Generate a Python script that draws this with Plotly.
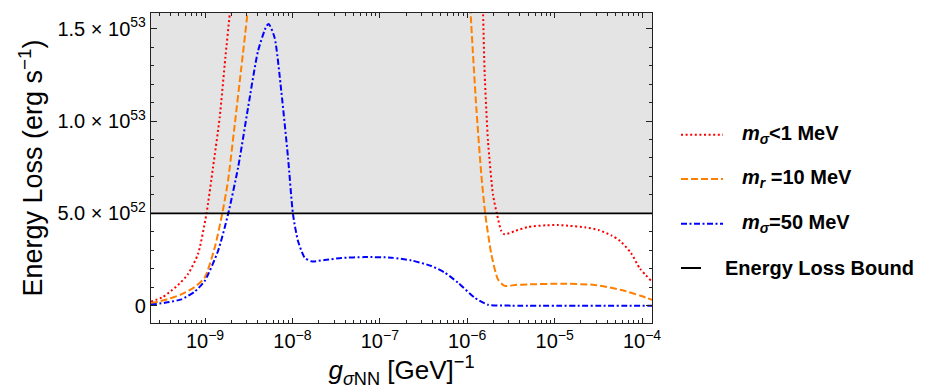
import plotly.graph_objects as go

# Energy loss curves, values in units of 1e52 erg/s
UNIT = 1e52

g_red = [2.40e-10, 3.24e-10, 4.11e-10, 5.13e-10, 6.38e-10, 8.32e-10, 1.035e-9, 1.236e-9,
         1.472e-9, 1.706e-9, 1.919e-9, 2.089e-9, None,
         1.445e-6, 1.517e-6, 1.585e-6, 1.730e-6, 1.972e-6, 2.193e-6, 2.455e-6, 2.685e-6,
         3.548e-6, 4.966e-6, 7.943e-6, 1.094e-5, 1.422e-5, 2.213e-5, 3.162e-5, 4.467e-5,
         5.623e-5, 7.482e-5, 9.484e-5, 1.300e-4]
e_red = [0.22, 0.45, 0.8, 1.2, 1.7, 2.8, 4.94, 7.5,
         10.2, 13.4, 15.8, 17.5, None,
         20.0, 15.85, 12.5, 8.9, 6.0, 4.94, 4.04, 3.86,
         4.05, 4.26, 4.35, 4.37, 4.33, 4.24, 4.10, 3.8,
         3.5, 2.85, 2.0, 1.3]

g_orange = [2.40e-10, 3.72e-10, 5.36e-10, 7.59e-10, 9.93e-10, 1.291e-9, 1.567e-9, 1.832e-9,
            2.188e-9, 2.600e-9, 3.048e-9, 3.311e-9, None,
            1.0e-6, 1.096e-6, 1.271e-6, 1.449e-6, 1.611e-6, 1.888e-6, 2.249e-6, 2.685e-6,
            3.548e-6, 4.966e-6, 1.194e-5, 2.877e-5, 5.794e-5, 9.817e-5, 1.300e-4]
e_orange = [0.12, 0.35, 0.61, 1.0, 1.52, 3.14, 4.94, 6.75,
            9.81, 12.88, 15.76, 17.5, None,
            20.0, 15.76, 10.71, 7.1, 4.94, 2.78, 1.42, 1.07,
            1.12, 1.15, 1.19, 1.12, 0.85, 0.52, 0.32]

g_blue = [2.40e-10, 3.72e-10, 5.36e-10, 7.59e-10, 9.93e-10, 1.409e-9, 1.832e-9, 2.388e-9,
          3.105e-9, 4.036e-9, 5.023e-9, 5.358e-9, 6.266e-9, 7.464e-9, 8.913e-9, 1.016e-8,
          1.159e-8, 1.380e-8, 1.644e-8, 2.344e-8, 3.631e-8, 6.714e-8, 1.355e-7, 2.291e-7,
          3.882e-7, 5.521e-7, 7.852e-7, 1.216e-6, 1.730e-6, 3.199e-6, 1.300e-4]
e_blue = [0.05, 0.18, 0.34, 0.75, 1.34, 2.96, 4.94, 7.47,
          10.71, 13.78, 15.13, 15.26, 14.5, 11.6, 8.0, 4.94,
          3.5, 2.6, 2.40, 2.47, 2.58, 2.63, 2.6, 2.45,
          2.15, 1.79, 1.24, 0.43, 0.05, 0.0, 0.0]

bound = 5.0  # energy loss bound, 1e52 erg/s

series_names = ["<i>m</i><sub><i>σ</i></sub>&lt;1 MeV",
                "<i>m</i><sub><i>r</i></sub> =10 MeV",
                "<i>m</i><sub><i>σ</i></sub>=50 MeV"]
bound_name = "Energy Loss Bound"

x_tickvals = [1e-9, 1e-8, 1e-7, 1e-6, 1e-5, 1e-4]
x_ticktext = ["10<sup>−9</sup>", "10<sup>−8</sup>", "10<sup>−7</sup>",
              "10<sup>−6</sup>", "10<sup>−5</sup>", "10<sup>−4</sup>"]
y_tickvals = [0, 5, 10, 15]
y_ticktext = ["0", "5.0 × 10<sup>52</sup>", "1.0 × 10<sup>53</sup>", "1.5 × 10<sup>53</sup>"]

x_range = [-9.618, -3.886]   # log10
y_range = [-0.94, 15.85]     # 1e52

FONT = "Liberation Sans, Arial, sans-serif"

def scale(vals):
    return [None if v is None else v * UNIT for v in vals]

styles = [
    dict(color="#ff0000", dash="2px,2.6px"),
    dict(color="#ff8000", dash="7px,3px"),
    dict(color="#0000ff", dash="6px,2.5px,2px,2.5px"),
]

fig = go.Figure()
for xs, ys, st in zip([g_red, g_orange, g_blue], [e_red, e_orange, e_blue], styles):
    fig.add_trace(go.Scatter(
        x=xs, y=scale(ys), mode="lines", showlegend=False,
        line=dict(color=st["color"], dash=st["dash"], width=2, shape="spline", smoothing=0.6),
        connectgaps=False,
    ))

# excluded region + bound line
fig.add_shape(type="rect", xref="paper", x0=0, x1=1, yref="y",
              y0=bound * UNIT, y1=y_range[1] * UNIT,
              fillcolor="#e4e4e4", line_width=0, layer="below")
fig.add_shape(type="line", xref="paper", x0=0, x1=1, yref="y",
              y0=bound * UNIT, y1=bound * UNIT, line=dict(color="black", width=1.6))

# hand-made legend (pixel layout of the plot area: x 143..644, y 5..315)
PX0, PW, PY1, PH = 143, 501, 315, 310
def px(x):
    return (x - PX0) / PW
def py(y):
    return (PY1 - y) / PH

leg_rows = [126.7, 171, 215.7]
for name, st, row in zip(series_names, styles, leg_rows):
    fig.add_shape(type="line", xref="paper", yref="paper",
                  x0=px(673), x1=px(715), y0=py(row), y1=py(row),
                  line=dict(color=st["color"], dash=st["dash"], width=2))
    fig.add_annotation(x=px(732), y=py(row), xref="paper", yref="paper",
                       text="<b>" + name + "</b>", showarrow=False,
                       xanchor="left", yanchor="middle",
                       font=dict(family=FONT, size=20, color="black"))
fig.add_shape(type="line", xref="paper", yref="paper",
              x0=px(673), x1=px(693), y0=py(260), y1=py(260),
              line=dict(color="black", width=2))
fig.add_annotation(x=px(715), y=py(260), xref="paper", yref="paper",
                   text="<b>" + bound_name + "</b>", showarrow=False,
                   xanchor="left", yanchor="middle",
                   font=dict(family=FONT, size=20, color="black"))

axis_common = dict(showline=True, linecolor="#222", linewidth=1.3, mirror="allticks",
                   ticks="inside", tickcolor="#222", showgrid=False, zeroline=False,
                   automargin=False,
                   tickfont=dict(family=FONT, size=20, color="black"))

fig.update_xaxes(type="log", range=x_range, tickmode="array",
                 tickvals=x_tickvals, ticktext=x_ticktext, ticklen=5,
                 minor=dict(ticks="inside", ticklen=2.5, tickcolor="#222",
                            tickvals=[m * 10.0 ** e for e in range(-10, -3) for m in range(2, 10)]),
                 title=dict(text="<i>g</i><sub><i>σ</i>NN</sub> [GeV]<sup>−1</sup>",
                            font=dict(family=FONT, size=26, color="black"), standoff=1),
                 **axis_common)
fig.update_yaxes(range=[v * UNIT for v in y_range], tickmode="array",
                 tickvals=[v * UNIT for v in y_tickvals], ticktext=y_ticktext, ticklen=6,
                 minor=dict(ticks="inside", ticklen=3, tickcolor="#222",
                            tickvals=[k * UNIT for k in range(0, 16)]),
                 title=dict(text="Energy Loss (erg s<sup>−1</sup>)",
                            font=dict(family=FONT, size=27, color="black"), standoff=6),
                 **axis_common)

fig.update_layout(
    width=927, height=388,
    margin=dict(l=143, r=283, t=5, b=73),
    plot_bgcolor="white", paper_bgcolor="white",
    font=dict(family=FONT),
)

fig.write_html("out.html")
